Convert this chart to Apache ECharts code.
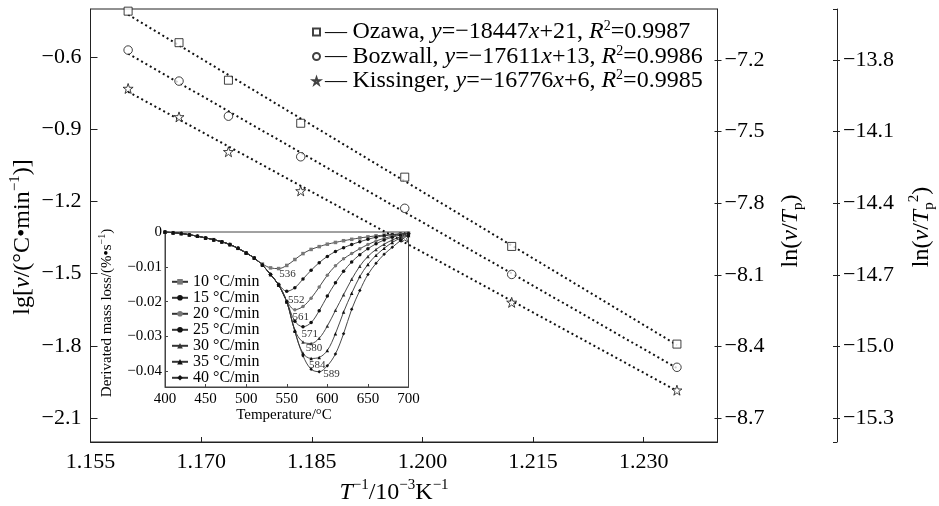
<!DOCTYPE html>
<html><head><meta charset="utf-8">
<script src="https://cdn.jsdelivr.net/npm/echarts@6/dist/echarts.min.js"></script>
<style>html,body{margin:0;padding:0;background:#fff}#c{width:939px;height:506px}</style>
</head><body><div id="c"></div>
<script>
// ---------- main plot data ----------
const invT = [1.1601, 1.1670, 1.1737, 1.1835, 1.1976, 1.2121, 1.2345];
const ozawa = [-0.409, -0.540, -0.696, -0.875, -1.099, -1.387, -1.793];
const bozwall = [-7.158, -7.288, -7.435, -7.605, -7.821, -8.098, -8.487];
const kissinger = [-13.919, -14.038, -14.184, -14.348, -14.542, -14.815, -15.183];
const seriesNames = ['Ozawa', 'Bozwall', 'Kissinger'];
const fitSlopes = [-18447, -17611, -16776];
const fitIntercepts = [21, 13, 6];
const fitR2 = ['0.9987', '0.9986', '0.9985'];
const xTicks = [1.155, 1.170, 1.185, 1.200, 1.215, 1.230];
const lgTicks = [-2.1, -1.8, -1.5, -1.2, -0.9, -0.6];
const lnTpTicks = [-8.7, -8.4, -8.1, -7.8, -7.5, -7.2];
const lnTp2Ticks = [-15.3, -15.0, -14.7, -14.4, -14.1, -13.8];

// ---------- inset data ----------
const temps = [400,410,420,430,440,450,460,470,480,490,500,510,520,530,540,550,560,570,580,590,600,610,620,630,640,650,660,670,680,690,700];
const rateNames = ['10 °C/min', '15 °C/min', '20 °C/min', '25 °C/min', '30 °C/min', '35 °C/min', '40 °C/min'];
const dtg10 = [0,-0.0002,-0.0004,-0.0008,-0.0012,-0.0017,-0.0022,-0.0028,-0.0036,-0.0047,-0.0060,-0.0075,-0.0092,-0.0103,-0.0105,-0.0096,-0.0079,-0.0062,-0.0050,-0.0042,-0.0035,-0.0030,-0.0025,-0.0021,-0.0017,-0.0014,-0.0011,-0.0009,-0.0007,-0.0005,-0.0003];
const dtg15 = [0,-0.0002,-0.0004,-0.0008,-0.0012,-0.0017,-0.0022,-0.0028,-0.0036,-0.0047,-0.0060,-0.0075,-0.0095,-0.0121,-0.0150,-0.0170,-0.0160,-0.0135,-0.0110,-0.0088,-0.0070,-0.0056,-0.0045,-0.0036,-0.0028,-0.0021,-0.0015,-0.0011,-0.0008,-0.0006,-0.0004];
const dtg20 = [0,-0.0002,-0.0004,-0.0008,-0.0012,-0.0017,-0.0022,-0.0028,-0.0036,-0.0047,-0.0060,-0.0075,-0.0095,-0.0122,-0.0152,-0.0198,-0.0223,-0.0214,-0.0190,-0.0158,-0.0124,-0.0097,-0.0077,-0.0062,-0.0048,-0.0036,-0.0026,-0.0018,-0.0012,-0.0007,-0.0004];
const dtg25 = [0,-0.0002,-0.0004,-0.0008,-0.0012,-0.0017,-0.0022,-0.0028,-0.0036,-0.0047,-0.0060,-0.0075,-0.0095,-0.0122,-0.0152,-0.0200,-0.0256,-0.0272,-0.0260,-0.0226,-0.0184,-0.0146,-0.0113,-0.0086,-0.0065,-0.0048,-0.0034,-0.0023,-0.0015,-0.0009,-0.0005];
const dtg30 = [0,-0.0002,-0.0004,-0.0008,-0.0012,-0.0017,-0.0022,-0.0028,-0.0036,-0.0047,-0.0060,-0.0075,-0.0095,-0.0122,-0.0152,-0.0200,-0.0282,-0.0316,-0.0320,-0.0305,-0.0270,-0.0225,-0.0180,-0.0136,-0.0098,-0.0070,-0.0050,-0.0035,-0.0023,-0.0014,-0.0008];
const dtg35 = [0,-0.0002,-0.0004,-0.0008,-0.0012,-0.0017,-0.0022,-0.0028,-0.0036,-0.0047,-0.0060,-0.0075,-0.0095,-0.0122,-0.0152,-0.0200,-0.0285,-0.0348,-0.0363,-0.0360,-0.0340,-0.0292,-0.0230,-0.0176,-0.0128,-0.0093,-0.0067,-0.0047,-0.0030,-0.0018,-0.0010];
const dtg40 = [0,-0.0002,-0.0004,-0.0008,-0.0012,-0.0017,-0.0022,-0.0028,-0.0036,-0.0047,-0.0060,-0.0075,-0.0095,-0.0122,-0.0152,-0.0200,-0.0285,-0.0355,-0.0394,-0.0401,-0.0384,-0.0350,-0.0292,-0.0222,-0.0168,-0.0122,-0.0090,-0.0064,-0.0044,-0.0025,-0.0009];
const peakT = [536, 552, 561, 571, 580, 584, 589];
const peakV = [-0.0105, -0.0172, -0.0224, -0.0272, -0.0320, -0.0364, -0.0402];
const insetYTicks = [-0.04, -0.03, -0.02, -0.01, 0];

// ---------- helpers ----------
const SERIF = 'Liberation Serif';
const minus = s => String(s).replace('-', '\u2212');
const zip = (a, b) => a.map((v, i) => [v, b[i]]);
function fitLine(xs, ys) {
  const n = xs.length; let sx = 0, sy = 0, sxx = 0, sxy = 0;
  for (let i = 0; i < n; i++) { sx += xs[i]; sy += ys[i]; sxx += xs[i] * xs[i]; sxy += xs[i] * ys[i]; }
  const b = (n * sxy - sx * sy) / (n * sxx - sx * sx);
  const a = (sy - b * sx) / n;
  return [[xs[0], a + b * xs[0]], [xs[n - 1], a + b * xs[n - 1]]];
}
const starPath = 'path://M50 2 L61.8 37.4 L99 37.4 L68.9 59.3 L80.3 95 L50 73 L19.7 95 L31.1 59.3 L1 37.4 L38.2 37.4 Z';
const AX = '#222';
const lblMain = {color: '#000', fontFamily: SERIF, fontSize: 22};

const richTitle = {
  i: {fontFamily: SERIF, fontStyle: 'italic', fontSize: 24, lineHeight: 30},
  sup: {fontFamily: SERIF, fontSize: 15, lineHeight: 20, verticalAlign: 'top'},
  sub: {fontFamily: SERIF, fontSize: 15, lineHeight: 18, verticalAlign: 'bottom'}
};
const richSmall = {
  sup: {fontFamily: SERIF, fontSize: 10, lineHeight: 13, verticalAlign: 'top'}
};
function titleText(x, y, text, rot, size, rich) {
  return {type: 'text', x: x, y: y, rotation: rot, z: 100,
    style: {text: text, fill: '#000', fontFamily: SERIF, fontSize: size, lineHeight: size === 24 ? 30 : 19,
      align: 'center', verticalAlign: 'middle', rich: rich}};
}

const mainSymbols = ['rect', 'circle', starPath];
const mainSizes = [8, 8.5, 10];
const mainData = [ozawa, bozwall, kissinger];

const series = [];
mainData.forEach((ys, k) => {
  series.push({
    name: seriesNames[k], type: 'scatter', xAxisIndex: 0, yAxisIndex: k,
    data: zip(invT, ys), symbol: mainSymbols[k], symbolSize: mainSizes[k], z: 4,
    itemStyle: {color: '#fff', borderColor: '#111', borderWidth: 1}
  });
  series.push({
    name: seriesNames[k] + ' fit', type: 'line', xAxisIndex: 0, yAxisIndex: k,
    data: fitLine(invT, ys), showSymbol: false, symbol: 'none', silent: true, z: 3,
    lineStyle: {color: '#111', width: 2, type: [2, 3]}
  });
});

const insetData = [dtg10, dtg15, dtg20, dtg25, dtg30, dtg35, dtg40];
const insetSymbols = ['rect', 'circle', 'circle', 'circle', 'triangle', 'triangle', 'diamond'];
const insetColors = ['#777', '#111', '#777', '#111', '#333', '#111', '#111'];
const peakOffsets = [[12, 6], [8, 8], [5, 7], [6, 7], [3, 5], [3, 6], [13, 2]];
insetData.forEach((vals, k) => {
  series.push({
    name: rateNames[k], type: 'line', xAxisIndex: 1, yAxisIndex: 5,
    data: zip(temps, vals), smooth: 0.35, symbol: insetSymbols[k], symbolSize: 3.5,
    showSymbol: true, z: 5,
    lineStyle: {color: '#333', width: 0.9}, itemStyle: {color: insetColors[k]},
    markPoint: {
      symbol: 'circle', symbolSize: 0, silent: true,
      data: [{coord: [peakT[k], peakV[k]], value: peakT[k]}],
      label: {show: true, position: 'inside', offset: peakOffsets[k], formatter: String(peakT[k]),
        color: '#333', fontFamily: SERIF, fontSize: 11}
    }
  });
});

const option = {
  animation: false,
  backgroundColor: '#fff',
  grid: [
    {left: 90.5, top: 9, width: 627, height: 433, show: true, borderColor: AX, borderWidth: 1, outerBoundsMode: 'none'},
    {left: 165, top: 232, width: 243.5, height: 155, show: true, borderColor: '#444', borderWidth: 1, outerBoundsMode: 'none'}
  ],
  xAxis: [
    {gridIndex: 0, type: 'value', min: 1.155, max: 1.240,
      axisLine: {show: true, onZero: false, lineStyle: {color: AX}},
      axisTick: {show: true, inside: true, length: 5, customValues: xTicks, lineStyle: {color: AX}},
      axisLabel: Object.assign({customValues: xTicks, margin: 9, formatter: v => v.toFixed(3)}, lblMain),
      splitLine: {show: false}},
    {gridIndex: 1, type: 'value', min: 400, max: 700, interval: 50,
      axisLine: {show: true, onZero: false, lineStyle: {color: '#444'}},
      axisTick: {show: true, inside: true, length: 3, lineStyle: {color: '#444'}},
      axisLabel: {color: '#000', fontFamily: SERIF, fontSize: 15, margin: 5},
      splitLine: {show: false}}
  ],
  yAxis: [
    {gridIndex: 0, type: 'value', position: 'left', min: -2.2, max: -0.4,
      axisLine: {show: true, onZero: false, lineStyle: {color: AX}},
      axisTick: {show: true, inside: true, length: 7, customValues: lgTicks, lineStyle: {color: AX}},
      axisLabel: Object.assign({customValues: lgTicks, margin: 9, formatter: v => minus(v.toFixed(1))}, lblMain),
      splitLine: {show: false}},
    {gridIndex: 0, type: 'value', position: 'right', min: -8.8, max: -6.986,
      axisLine: {show: true, onZero: false, lineStyle: {color: AX}},
      axisTick: {show: true, inside: false, length: 4, customValues: lnTpTicks, lineStyle: {color: AX}},
      axisLabel: Object.assign({customValues: lnTpTicks, margin: 7, formatter: v => minus(v.toFixed(1))}, lblMain),
      splitLine: {show: false}},
    {gridIndex: 0, type: 'value', position: 'right', offset: 119.5, min: -15.4, max: -13.586,
      axisLine: {show: true, onZero: false, lineStyle: {color: AX}},
      axisTick: {show: true, inside: false, length: 3, customValues: lnTp2Ticks, lineStyle: {color: AX}},
      axisLabel: Object.assign({customValues: lnTp2Ticks, margin: 6, formatter: v => minus(v.toFixed(1))}, lblMain),
      splitLine: {show: false}},
    {gridIndex: 0, type: 'value', position: 'right', min: -8.8, max: -6.986,
      axisLine: {show: false, onZero: false},
      axisTick: {show: true, inside: true, length: 3, customValues: lnTpTicks, lineStyle: {color: AX}},
      axisLabel: {show: false}, splitLine: {show: false}},
    {gridIndex: 0, type: 'value', position: 'right', offset: 119.5, min: -15.4, max: -13.586,
      axisLine: {show: false, onZero: false},
      axisTick: {show: true, inside: true, length: 4, customValues: lnTp2Ticks.concat([-15.4, -13.586]), lineStyle: {color: AX}},
      axisLabel: {show: false}, splitLine: {show: false}},
    {gridIndex: 1, type: 'value', min: -0.0445, max: 0,
      axisLine: {show: true, onZero: false, lineStyle: {color: '#444'}},
      axisTick: {show: true, inside: true, length: 3, customValues: insetYTicks, lineStyle: {color: '#444'}},
      axisLabel: {customValues: insetYTicks, color: '#000', fontFamily: SERIF, fontSize: 15, margin: 3,
        formatter: v => Math.abs(v) < 1e-9 ? '0' : minus(v.toFixed(2))},
      splitLine: {show: false}}
  ],
  legend: [
    {data: seriesNames, orient: 'vertical', left: 312, top: 19.75, itemWidth: 7, itemHeight: 7, itemGap: 0,
      selectedMode: false, padding: 0,
      formatter: name => {
        const k = seriesNames.indexOf(name);
        return '{d|\u2014 }' + name + ', {i|y}=\u2212' + Math.abs(fitSlopes[k]) + '{i|x}+' + fitIntercepts[k] +
          ', {i|R}{sup|2}=' + fitR2[k];
      },
      textStyle: {color: '#000', fontFamily: SERIF, fontSize: 24, lineHeight: 24.5,
        rich: {
          i: {fontFamily: SERIF, fontStyle: 'italic', fontSize: 24, lineHeight: 24.5},
          sup: {fontFamily: SERIF, fontSize: 14, lineHeight: 15, verticalAlign: 'top'},
          d: {fontFamily: SERIF, fontSize: 22, lineHeight: 24.5}
        }}},
    {data: rateNames, orient: 'vertical', left: 171, top: 273.8, itemWidth: 16, itemHeight: 7, itemGap: 0,
      selectedMode: false, padding: 0,
      textStyle: {color: '#000', fontFamily: SERIF, fontSize: 16, lineHeight: 15.8}}
  ],
  graphic: [
    titleText(23, 237, 'lg[{i|\u03bd}/(\u00b0C\u2022min{sup|\u22121})]', Math.PI / 2, 24, richTitle),
    titleText(791, 231, 'ln({i|\u03bd}/{i|T}{sub|p})', Math.PI / 2, 24, richTitle),
    titleText(922, 227, 'ln({i|\u03bd}/{i|T}{sub|p}{sup|2})', Math.PI / 2, 24, richTitle),
    titleText(394, 493, '{i|T}{sup|\u22121}/10{sup|\u22123}K{sup|\u22121}', 0, 24, richTitle),
    titleText(107, 313, 'Derivated mass loss/(%\u2022s{sup|\u22121})', Math.PI / 2, 15, richSmall),
    titleText(284, 415, 'Temperature/\u00b0C', 0, 15, richSmall)
  ],
  series: series
};
const chart = echarts.init(document.getElementById('c'), null, {renderer: 'canvas'});
chart.setOption(option);
</script>
</body></html>
